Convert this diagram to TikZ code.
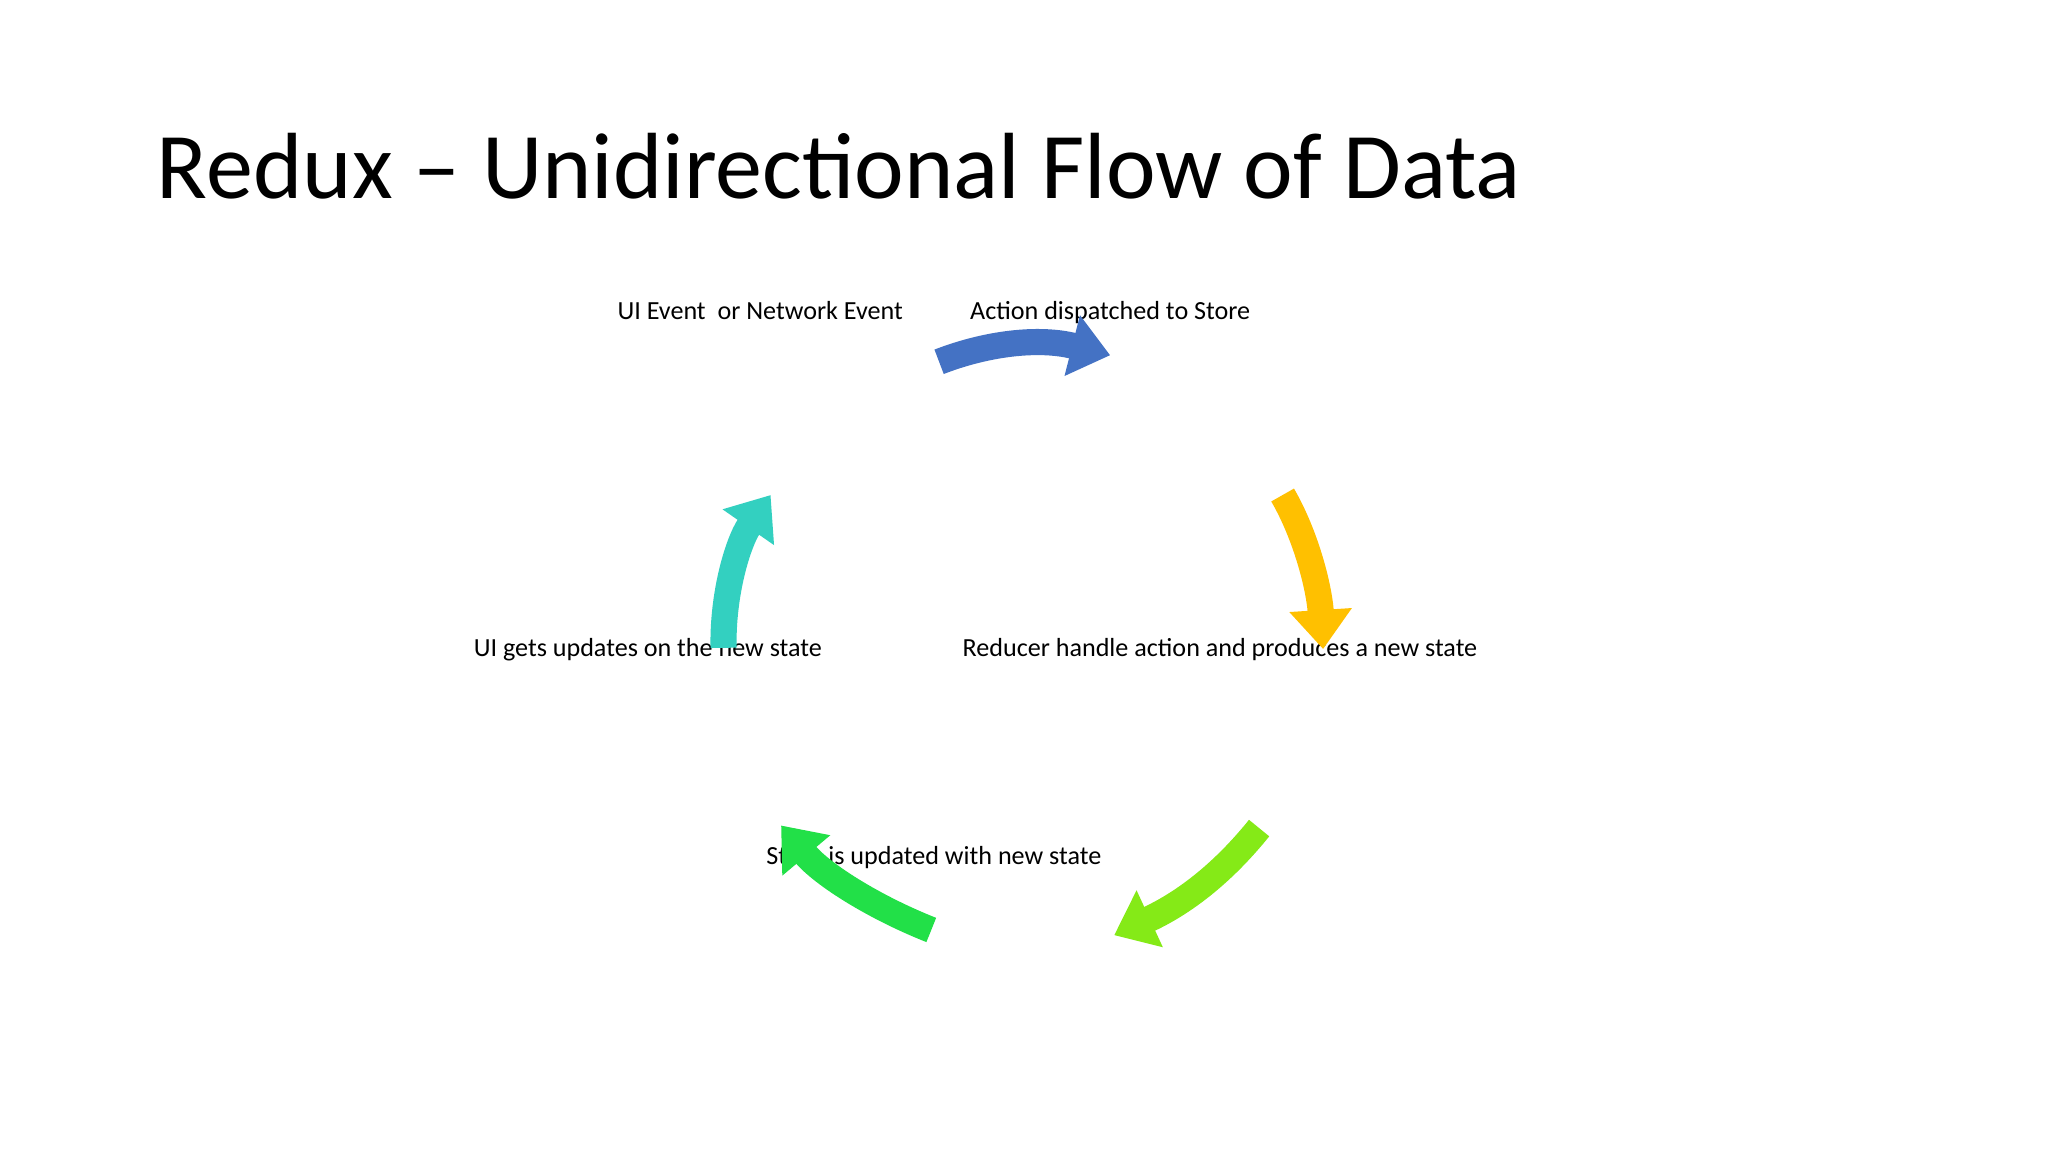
\documentclass[tikz,border=0pt]{standalone}
\usepackage{fontspec}
\setmainfont{Carlito}
\usetikzlibrary{arrows.meta}
\begin{document}
\begin{tikzpicture}[x=1pt,y=-1pt,
  lbl/.style={font=\fontsize{20}{24}\selectfont,inner sep=0pt,anchor=base},
  blk/.style={line width=20pt,-{Triangle[width=46pt,length=30pt]}}]
\useasboundingbox (0,0) rectangle (1568,882);
\fill[white] (0,0) rectangle (1568,882);
\node[anchor=base west,inner sep=0pt,font=\fontsize{72}{80}\selectfont] (title) at (120,152) {Redux -- Unidirectional Flow of Data};
\node[lbl] (ui) at (582,245) {UI Event\ \ or Network Event};
\node[lbl] (act) at (850,245) {Action dispatched to Store};
\node[lbl] (red) at (934,503) {Reducer handle action and produces a new state};
\node[lbl] (sto) at (715,662) {Store is updated with new state};
\node[lbl] (upd) at (496,503) {UI gets updates on the new state};
\coordinate (b1) at (719,277); \coordinate (b2) at (850,272);
\coordinate (y1) at (982,379); \coordinate (y2) at (1013,497);
\coordinate (l1) at (964,634); \coordinate (l2) at (853,716);
\coordinate (g1) at (713,712); \coordinate (g2) at (598,632);
\coordinate (t1) at (554,496); \coordinate (t2) at (590,379);
\draw[blk,color={rgb,255:red,68;green,114;blue,196}] (b1) .. controls (755,263) and (795,258) .. (b2);
\draw[blk,color={rgb,255:red,255;green,192;blue,0}] (y1) .. controls (1000,410) and (1010,450) .. (y2);
\draw[blk,color={rgb,255:red,133;green,234;blue,23}] (l1) .. controls (935,670) and (905,692) .. (l2);
\draw[blk,color={rgb,255:red,34;green,224;blue,72}] (g1) .. controls (670,695) and (630,670) .. (g2);
\draw[blk,color={rgb,255:red,51;green,208;blue,192}] (t1) .. controls (553,455) and (565,415) .. (t2);
\end{tikzpicture}
\end{document}
